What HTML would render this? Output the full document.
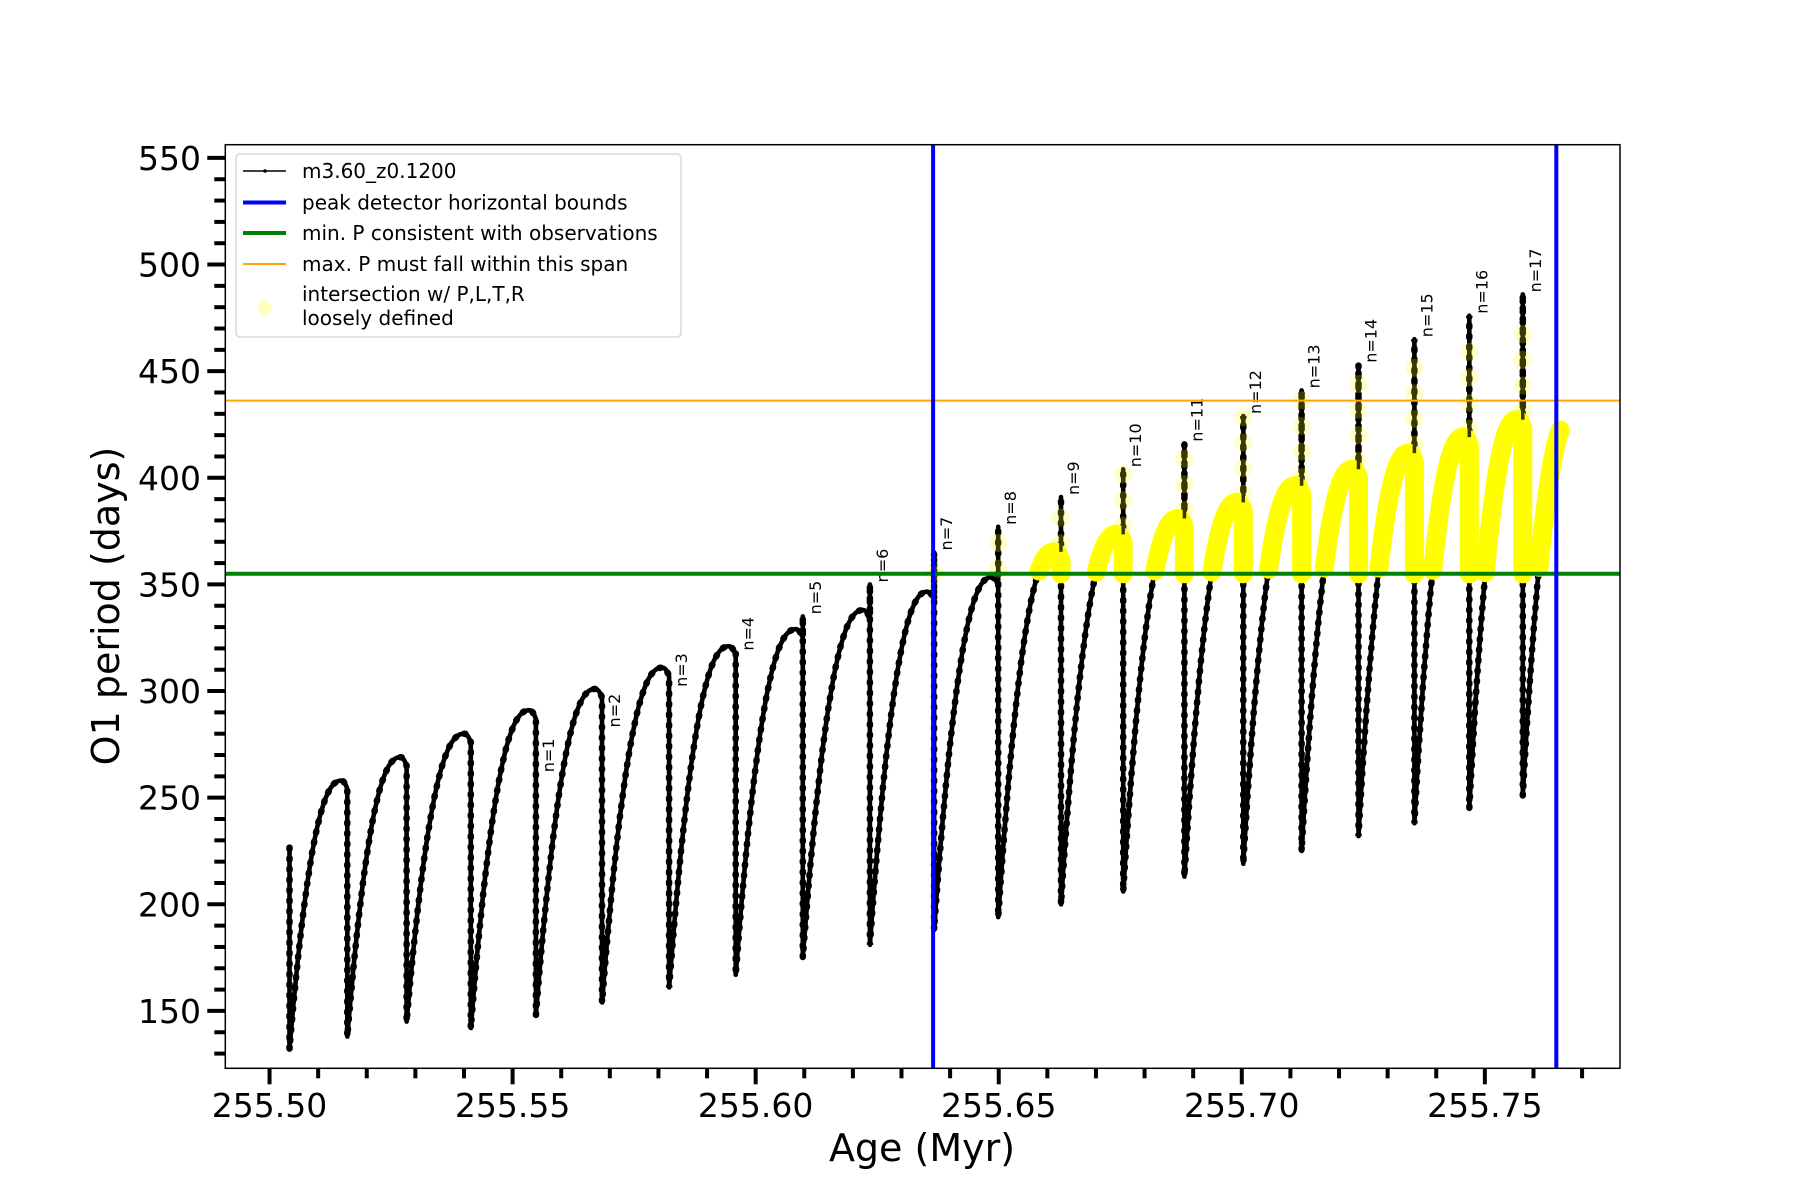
<!DOCTYPE html>
<html><head><meta charset="utf-8"><style>
html,body{margin:0;padding:0;background:#fff;}
svg{display:block;font-family:"DejaVu Sans","Liberation Sans",sans-serif;}
</style></head><body>
<svg id="chart" width="1800" height="1200" viewBox="0 0 1800 1200" xmlns="http://www.w3.org/2000/svg">
<rect x="0" y="0" width="1800" height="1200" fill="#fff"/>
<g id="plot"></g>
<g id="axes"></g>
<text x="922" y="1161" font-size="38" text-anchor="middle">Age (Myr)</text>
<text transform="translate(119,606) rotate(-90)" font-size="38" text-anchor="middle">O1 period (days)</text>
<g>
<rect x="236" y="154" width="445" height="183" rx="4" fill="#fff" fill-opacity="0.8" stroke="#d8d8d8" stroke-width="1.5"/>
<g><line x1="243" y1="171" x2="286" y2="171" stroke="#000" stroke-width="1.5"/><circle cx="265" cy="171" r="1.8" fill="#000"/><text x="302" y="178" font-size="20">m3.60_z0.1200</text></g>
<g><line x1="243" y1="202.5" x2="286" y2="202.5" stroke="#0000ff" stroke-width="4"/><text x="302" y="209.5" font-size="20">peak detector horizontal bounds</text></g>
<g><line x1="243" y1="233" x2="286" y2="233" stroke="#008000" stroke-width="4"/><text x="302" y="240" font-size="20">min. P consistent with observations</text></g>
<g><line x1="243" y1="264" x2="286" y2="264" stroke="#ffa500" stroke-width="2"/><text x="302" y="271" font-size="20">max. P must fall within this span</text></g>
<g><ellipse cx="265" cy="308" rx="7" ry="8" fill="#ffff00" fill-opacity="0.25"/><text x="302" y="301" font-size="20">intersection w/ P,L,T,R</text><text x="302" y="325" font-size="20">loosely defined</text></g>
</g>
</svg>
<script>
// ---- data ----
const dropAges = [255.5041,255.5160,255.5282,255.5414,255.5548,255.5684,255.5822,255.5959,255.6097,255.6235,255.6367,255.6499,255.6628,255.6756,255.6882,255.7003,255.7123,255.7240,255.7355,255.7468,255.7578];
const endAge = 255.7655;
const minima = [132,138,145,142,148,154,161,167,175,181,188,194,200,206,213,219,225,232,238,245,251];
const peaks = [258,269,280,291,301,311,321,329,338,346.6,353.4,365.3,373.5,380.9,388.5,396.3,404,411.6,419.1,427.3,429];
const startTop = 226.6;
const labelNames = ["n=1","n=2","n=3","n=4","n=5","n=6","n=7","n=8","n=9","n=10","n=11","n=12","n=13","n=14","n=15","n=16","n=17"];
const spikeTops = [261,282,301,318,335,350,365,377,391,404,416,429,441,453,465,476,486];
const boundAges = [255.6365,255.7647];
const minP = [355];
const maxP = [436.2];
const xTicks = [255.50,255.55,255.60,255.65,255.70,255.75];
const xTickLabels = ["255.50","255.55","255.60","255.65","255.70","255.75"];
const yTicks = [150,200,250,300,350,400,450,500,550];
const yTickLabels = ["150","200","250","300","350","400","450","500","550"];

// ---- axes ----
const L=225.3,R=1620,T=144.7,B=1068.3;
const X0=255.4909,X1=255.7778,Y0=123.1,Y1=556.2;
const sx=a=>L+(a-X0)/(X1-X0)*(R-L);
const sy=v=>B-(v-Y0)/(Y1-Y0)*(B-T);
const NS="http://www.w3.org/2000/svg";
const plot=document.getElementById('plot');
const axes=document.getElementById('axes');
function mk(tag,attrs,parent){const e=document.createElementNS(NS,tag);for(const k in attrs)e.setAttribute(k,attrs[k]);parent.appendChild(e);return e;}

const defs=mk('defs',{},plot);
const cp=mk('clipPath',{id:'clip'},defs);
mk('rect',{x:L,y:T,width:R-L,height:B-T},cp);
const g=mk('g',{'clip-path':'url(#clip)'},plot);

function shape(t,min,pk){
  if(t<=0.9){const u=t/0.9;return min+(pk-min)*(1-Math.pow(1-u,2.3));}
  const w=(t-0.9)/0.1;return pk-4*w*w;
}
let d='';
let dots='';
let yellowSegs=[];
const nC=dropAges.length;
for(let i=0;i<nC;i++){
  const a0=dropAges[i];
  const last=(i===nC-1);
  const a1=last?endAge:dropAges[i+1];
  const len=last?(dropAges[i]-dropAges[i-1]):(a1-a0);
  const prevTop=i===0?startTop:Math.max(peaks[i-1]-4,i>=4?spikeTops[i-4]:0);
  d+=(i===0?'M':'L')+sx(a0).toFixed(1)+','+sy(prevTop).toFixed(1)+'L'+sx(a0).toFixed(1)+','+sy(minima[i]).toFixed(1);
  const N=60;let ys=[];
  for(let k=1;k<=N;k++){
    const a=a0+(a1-a0)*k/N;const t=(a-a0)/len;
    const v=last?minima[i]+(peaks[i]-minima[i])*(1-Math.pow(1-Math.min(t/0.92,1),2.3)):shape(t,minima[i],peaks[i]);
    d+='L'+sx(a).toFixed(1)+','+sy(v).toFixed(1);
    if(a>=boundAges[0]&&v>=minP[0])ys.push([a,v]);
  }
  if(ys.length){
    if(!last) ys.push([a1,minP[0]]);
    yellowSegs.push(ys);
  }
}
const curve=mk('path',{d:d,fill:'none',stroke:'#000','stroke-width':4.6,'stroke-linejoin':'round'},g);


const curveDots=mk('path',{d:d,fill:'none',stroke:'#000','stroke-width':6.5,'stroke-dasharray':'1.5 9','stroke-linecap':'round'},g);



yellowSegs.forEach((s,j)=>{
  let p='';
  s.forEach((pt,k)=>{const v=Math.max(pt[1],minP[0]);p+=(k?'L':'M')+sx(pt[0]).toFixed(1)+','+sy(v).toFixed(1);});
  const y=mk('path',{d:p,fill:'none',stroke:'#ffff00','stroke-width':19,'stroke-linecap':'round','stroke-linejoin':'round'},g);
  
  
});

labelNames.forEach((name,j)=>{
  const idx=j+4;
  const a=dropAges[idx];const top=spikeTops[j];const pk=peaks[idx-1];
  if(top>pk){
    const ln=mk('line',{x1:sx(a),x2:sx(a),y1:sy(pk),y2:sy(top),stroke:'#000','stroke-width':3.5},g);
    
    
    if(a>=boundAges[0]-0.0005){
      for(let v=Math.max(minP[0],pk+4);v<=Math.min(top,pk+40);v+=12){
        const c=mk('circle',{cx:sx(a),cy:sy(v),r:9,fill:'#ffff00','fill-opacity':0.22},g);
        
        
      }
    }
  }
  const tx=sx(a)+18,ty=sy(top)-2;
  const t=mk('text',{x:tx,y:ty,'font-size':16,transform:`rotate(-90 ${tx} ${ty})`},plot);
  t.textContent=name;
  
  
});

minP.forEach(v=>{const l=mk('line',{x1:L,x2:R,y1:sy(v),y2:sy(v),stroke:'#008000','stroke-width':4},plot);
 
 });
maxP.forEach(v=>{const l=mk('line',{x1:L,x2:R,y1:sy(v),y2:sy(v),stroke:'#ffa500','stroke-width':2},plot);
 
 });
boundAges.forEach(a=>{const l=mk('line',{x1:sx(a),x2:sx(a),y1:T,y2:B,stroke:'#0000ff','stroke-width':4},plot);
 
 });

const fr=mk('rect',{x:L,y:T,width:R-L,height:B-T,fill:'none',stroke:'#000','stroke-width':1.5},axes);



for(let m=0;m<=27;m++){
  const a=255.50+m*0.01;const x=sx(a);if(x<L||x>R)continue;
  const major=(m%5===0);
  const tk=mk('line',{x1:x,x2:x,y1:B,y2:B+(major?16:10),stroke:'#000','stroke-width':4},axes);
  
  
}
xTicks.forEach((a,i)=>{const t=mk('text',{x:sx(a),y:1117,'font-size':33,'text-anchor':'middle'},axes);t.textContent=xTickLabels[i];
 
 });
for(let v=130;v<=550;v+=10){
  const y=sy(v);const major=(v%50===0);
  const tk=mk('line',{x1:L-(major?18:11),x2:L,y1:y,y2:y,stroke:'#000','stroke-width':4},axes);
  
  
}
yTicks.forEach((v,i)=>{const t=mk('text',{x:201,y:sy(v)+12,'font-size':33,'text-anchor':'end'},axes);t.textContent=yTickLabels[i];
 
 });
</script>
</body></html>
